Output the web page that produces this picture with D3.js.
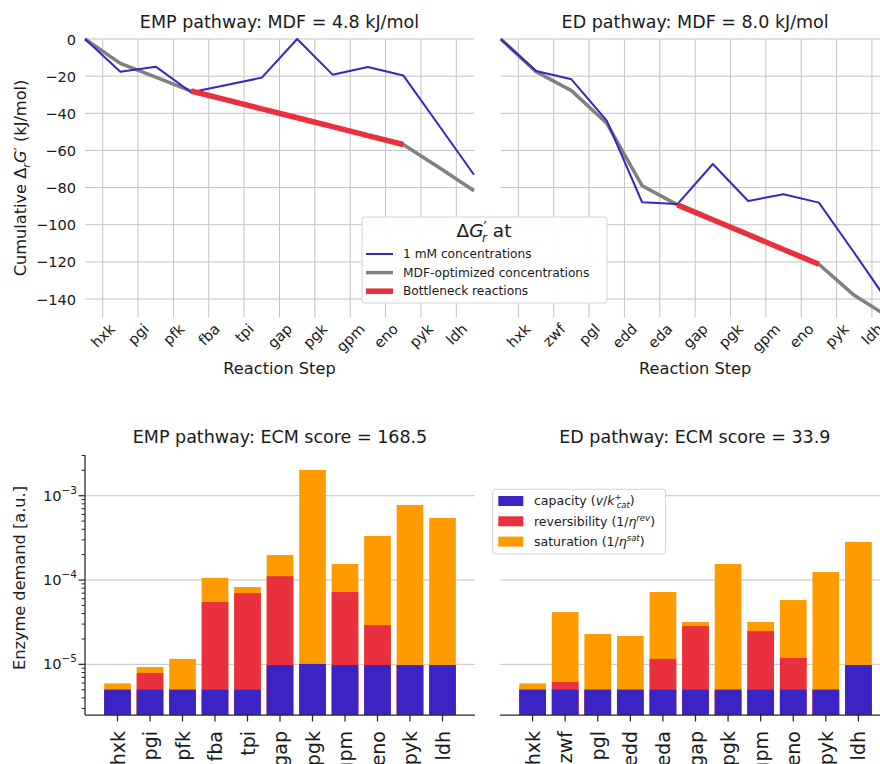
<!DOCTYPE html>
<html>
<head>
<meta charset="utf-8">
<script src="https://cdn.jsdelivr.net/npm/d3@7"></script>
<style>
  html, body { margin: 0; padding: 0; background: #fff; }
  svg { display: block; font-family: "DejaVu Sans", sans-serif; }
</style>
</head>
<body>
<svg id="fig" width="880" height="764"></svg>
<script>
// ---- Pathway reaction steps ----
const empSteps = ["hxk", "pgi", "pfk", "fba", "tpi", "gap", "pgk", "gpm", "eno", "pyk", "ldh"];
const edSteps  = ["hxk", "zwf", "pgl", "edd", "eda", "gap", "pgk", "gpm", "eno", "pyk", "ldh"];

// ---- Cumulative reaction Gibbs energy (kJ/mol), starting point + one value after each step ----
const empCum1mM = [0, -17.6, -14.9, -28.7, -24.8, -20.8, 0, -19.2, -15.1, -19.6, -46.3, -73.1];
const empCumMDF = [0, -13.1, -20.5, -28.0, -32.8, -37.6, -42.4, -47.2, -52.0, -56.8, -69.0, -81.7];
const empBottleneck = ["fba", "tpi", "gap", "pgk", "gpm", "eno"];

const edCum1mM = [0, -17.2, -21.7, -44.0, -87.9, -88.9, -67.3, -87.2, -83.6, -88.1, -115.1, -142.7];
const edCumMDF = [0, -17.6, -27.8, -45.4, -79.0, -89.3, -97.3, -105.3, -113.3, -121.3, -138.0, -150.0];
const edBottleneck = ["gap", "pgk", "gpm", "eno"];

const mdfTitles = ["EMP pathway: MDF = 4.8 kJ/mol", "ED pathway: MDF = 8.0 kJ/mol"];
const dgTicks = [0, -20, -40, -60, -80, -100, -120, -140];

// ---- Enzyme demand (a.u.): capacity term, after reversibility factor, after saturation factor ----
const empCapacity = [5.0e-6, 5.0e-6, 5.0e-6, 5.0e-6, 5.0e-6, 9.8e-6, 1.01e-5, 9.8e-6, 9.8e-6, 9.8e-6, 9.8e-6];
const empWithRev  = [5.0e-6, 7.9e-6, 5.0e-6, 5.48e-5, 7.0e-5, 1.11e-4, 1.01e-5, 7.2e-5, 2.92e-5, 9.8e-6, 9.8e-6];
const empDemand   = [5.94e-6, 9.3e-6, 1.16e-5, 1.06e-4, 8.26e-5, 1.98e-4, 2.02e-3, 1.55e-4, 3.33e-4, 7.77e-4, 5.45e-4];

const edCapacity = [5.0e-6, 5.0e-6, 5.0e-6, 5.0e-6, 5.0e-6, 5.0e-6, 5.0e-6, 5.0e-6, 5.0e-6, 5.0e-6, 9.8e-6];
const edWithRev  = [5.0e-6, 6.17e-6, 5.0e-6, 5.0e-6, 1.16e-5, 2.84e-5, 5.0e-6, 2.48e-5, 1.19e-5, 5.0e-6, 9.8e-6];
const edDemand   = [5.94e-6, 4.17e-5, 2.29e-5, 2.17e-5, 7.21e-5, 3.18e-5, 1.55e-4, 3.18e-5, 5.79e-5, 1.244e-4, 2.83e-4];

const ecmTitles = ["EMP pathway: ECM score = 168.5", "ED pathway: ECM score = 33.9"];
const demandDecades = [-5, -4, -3];

// ---- Styling ----
const C = { blue: "#3b23c4", gray: "#808080", red: "#e8303f", orange: "#fd9b00",
            grid: "#c4c4c4", ink: "#1a1a1a", spine: "#262626" };
const FS = { tick: 14.6, title: 17.5, label: 16.2, legend: 12.2, bottomTick: 19 };

const svg = d3.select("#fig");

// ================= Top row: cumulative ΔG profiles =================
const yDG = d3.scaleLinear().domain([-150, 0]).range([317.6, 39]);
const topPanels = [
  { steps: empSteps, cum1: empCum1mM, cumM: empCumMDF, bott: empBottleneck, title: mdfTitles[0],
    x: d3.scaleLinear().domain([0, 11]).range([85, 474]), yLabels: true },
  { steps: edSteps, cum1: edCum1mM, cumM: edCumMDF, bott: edBottleneck, title: mdfTitles[1],
    x: d3.scaleLinear().domain([0, 11]).range([500.7, 889.6]), yLabels: false }
];

topPanels.forEach(p => {
  const g = svg.append("g");
  const [x0, x1] = p.x.range();
  // horizontal grid
  g.selectAll("line.hg").data(dgTicks).join("line")
    .attr("x1", x0).attr("x2", x1)
    .attr("y1", d => yDG(d)).attr("y2", d => yDG(d))
    .attr("stroke", C.grid).attr("stroke-width", 1);
  // vertical grid at step centres
  g.selectAll("line.vg").data(p.steps).join("line")
    .attr("x1", (d, i) => p.x(i + 0.5)).attr("x2", (d, i) => p.x(i + 0.5))
    .attr("y1", yDG(0)).attr("y2", yDG(-150))
    .attr("stroke", C.grid).attr("stroke-width", 1);

  if (p.yLabels) {
    g.selectAll("text.yt").data(dgTicks).join("text")
      .attr("x", 76).attr("y", d => yDG(d))
      .attr("text-anchor", "end").attr("dominant-baseline", "central")
      .attr("font-size", FS.tick).attr("fill", C.ink)
      .text(d => d3.format("d")(d).replace("-", "\u2212"));
  }

  const line = d3.line().x((d, i) => p.x(i)).y(d => yDG(d));
  // MDF-optimized profile
  g.append("path").attr("d", line(p.cumM)).attr("fill", "none")
    .attr("stroke", C.gray).attr("stroke-width", 3.5).attr("stroke-linejoin", "round");
  // 1 mM profile
  g.append("path").attr("d", line(p.cum1)).attr("fill", "none")
    .attr("stroke", C.blue).attr("stroke-width", 2).attr("stroke-linejoin", "round");
  // Bottleneck segments
  p.steps.forEach((s, i) => {
    if (!p.bott.includes(s)) return;
    g.append("line")
      .attr("x1", p.x(i)).attr("y1", yDG(p.cumM[i]))
      .attr("x2", p.x(i + 1)).attr("y2", yDG(p.cumM[i + 1]))
      .attr("stroke", C.red).attr("stroke-width", 5.5);
  });

  // x tick labels, rotated 45°
  p.steps.forEach((s, i) => {
    const t = g.append("text").attr("text-anchor", "middle").attr("dominant-baseline", "central")
      .attr("font-size", FS.tick).attr("fill", C.ink).text(s);
    const w = t.node().getComputedTextLength();
    const cy = 322 + (w + 0.78 * FS.tick) / (2 * Math.SQRT2);
    t.attr("transform", `translate(${p.x(i + 0.5)},${cy}) rotate(-45)`);
  });

  g.append("text").attr("x", (x0 + x1) / 2).attr("y", 374)
    .attr("text-anchor", "middle").attr("font-size", FS.label).attr("fill", C.ink)
    .text("Reaction Step");
  g.append("text").attr("x", (x0 + x1) / 2).attr("y", 28)
    .attr("text-anchor", "middle").attr("font-size", FS.title).attr("fill", C.ink)
    .text(p.title);
});

// y-axis label: Cumulative Δ_rG′ (kJ/mol)
{
  const t = svg.append("text").attr("transform", `translate(26,178) rotate(-90)`)
    .attr("text-anchor", "middle").attr("font-size", FS.label).attr("fill", C.ink);
  t.append("tspan").text("Cumulative \u0394");
  t.append("tspan").attr("font-style", "italic").attr("font-size", FS.label * 0.7).attr("dy", 3.5).text("r");
  t.append("tspan").attr("font-style", "italic").attr("dy", -3.5).text("G");
  t.append("tspan").attr("font-size", FS.label * 0.9).attr("dy", -2).text("\u2032");
  t.append("tspan").attr("dy", 2).text(" (kJ/mol)");
}

// Top legend
{
  const lg = svg.append("g");
  lg.append("rect").attr("x", 362).attr("y", 217).attr("width", 245).attr("height", 86)
    .attr("rx", 3).attr("fill", "#fff").attr("fill-opacity", 0.95)
    .attr("stroke", "#d4d4d4").attr("stroke-width", 1);
  const tt = lg.append("text").attr("x", 484).attr("y", 237).attr("text-anchor", "middle")
    .attr("font-size", 18.5).attr("fill", C.ink);
  tt.append("tspan").text("\u0394");
  tt.append("tspan").attr("font-style", "italic").text("G");
  tt.append("tspan").attr("font-size", 15).attr("dy", -4).attr("dx", 0).text("\u2032");
  tt.append("tspan").attr("font-size", 12).attr("font-style", "italic").attr("dy", 9).attr("dx", -5).text("r");
  tt.append("tspan").attr("dy", -5).text(" at");
  const entries = [
    { label: "1 mM concentrations", color: C.blue, w: 2 },
    { label: "MDF-optimized concentrations", color: C.gray, w: 3.5 },
    { label: "Bottleneck reactions", color: C.red, w: 5.5 }
  ];
  entries.forEach((e, i) => {
    const cy = 254 + i * 18.6;
    lg.append("line").attr("x1", 366).attr("x2", 393).attr("y1", cy).attr("y2", cy)
      .attr("stroke", e.color).attr("stroke-width", e.w);
    lg.append("text").attr("x", 403).attr("y", cy).attr("dominant-baseline", "central")
      .attr("font-size", FS.legend).attr("fill", C.ink).text(e.label);
  });
}

// ================= Bottom row: enzyme demand =================
const yDem = d3.scaleLog().domain([Math.pow(10, -5.601), Math.pow(10, -2.517)]).range([715, 455]);
const botPanels = [
  { steps: empSteps, cap: empCapacity, rev: empWithRev, tot: empDemand, title: ecmTitles[0],
    range: [85, 475], axis: true },
  { steps: edSteps, cap: edCapacity, rev: edWithRev, tot: edDemand, title: ecmTitles[1],
    range: [500, 891], axis: false }
];

botPanels.forEach(p => {
  const g = svg.append("g");
  const x = d3.scaleBand().domain(p.steps).range(p.range).paddingInner(0.18).paddingOuter(0.59);
  const [x0, x1] = p.range;
  // major gridlines
  g.selectAll("line.hg").data(demandDecades).join("line")
    .attr("x1", x0).attr("x2", x1)
    .attr("y1", d => yDem(Math.pow(10, d))).attr("y2", d => yDem(Math.pow(10, d)))
    .attr("stroke", C.grid).attr("stroke-width", 1);

  const base = yDem.range()[0];
  const layers = [
    { vals: p.tot, color: C.orange },
    { vals: p.rev, color: C.red },
    { vals: p.cap, color: C.blue }
  ];
  layers.forEach(L => {
    g.selectAll(null).data(p.steps).join("rect")
      .attr("x", d => x(d)).attr("width", x.bandwidth())
      .attr("y", (d, i) => yDem(L.vals[i]))
      .attr("height", (d, i) => base - yDem(L.vals[i]))
      .attr("fill", L.color);
  });

  // bottom spine and ticks
  g.append("line").attr("x1", x0).attr("x2", x1).attr("y1", 715).attr("y2", 715)
    .attr("stroke", C.spine).attr("stroke-width", 1.25);
  p.steps.forEach(s => {
    const cx = x(s) + x.bandwidth() / 2;
    g.append("line").attr("x1", cx).attr("x2", cx).attr("y1", 715).attr("y2", 721.5)
      .attr("stroke", C.spine).attr("stroke-width", 1.25);
    g.append("text").attr("text-anchor", "end").attr("dominant-baseline", "central")
      .attr("transform", `translate(${cx},731) rotate(-90)`)
      .attr("font-size", FS.bottomTick).attr("fill", C.ink).text(s);
  });

  if (p.axis) {
    g.append("line").attr("x1", x0).attr("x2", x0).attr("y1", 455).attr("y2", 715)
      .attr("stroke", C.spine).attr("stroke-width", 1.25);
    const minor = yDem.ticks().filter(v => Math.abs(Math.log10(v) - Math.round(Math.log10(v))) > 1e-6);
    g.selectAll("line.mn").data(minor).join("line")
      .attr("x1", x0 - 3.5).attr("x2", x0).attr("y1", d => yDem(d)).attr("y2", d => yDem(d))
      .attr("stroke", C.spine).attr("stroke-width", 1);
    demandDecades.forEach(e => {
      const yy = yDem(Math.pow(10, e));
      g.append("line").attr("x1", x0 - 6.5).attr("x2", x0).attr("y1", yy).attr("y2", yy)
        .attr("stroke", C.spine).attr("stroke-width", 1.25);
      const t = g.append("text").attr("x", 77).attr("y", yy + 5).attr("text-anchor", "end")
        .attr("font-size", FS.tick).attr("fill", C.ink);
      t.append("tspan").text("10");
      t.append("tspan").attr("dy", -7).attr("font-size", 10.5).text("\u2212" + Math.abs(e));
    });
  }

  g.append("text").attr("x", (x0 + Math.min(x1, 889.6)) / 2).attr("y", 443)
    .attr("text-anchor", "middle").attr("font-size", FS.title).attr("fill", C.ink).text(p.title);
});

svg.append("text").attr("transform", "translate(25,578) rotate(-90)")
  .attr("text-anchor", "middle").attr("font-size", FS.label).attr("fill", C.ink)
  .text("Enzyme demand [a.u.]");

// Bottom legend
{
  const lg = svg.append("g");
  lg.append("rect").attr("x", 492.7).attr("y", 489.3).attr("width", 173).attr("height", 64.7)
    .attr("rx", 3).attr("fill", "#fff").attr("fill-opacity", 0.95)
    .attr("stroke", "#d4d4d4").attr("stroke-width", 1);
  const rows = [
    { color: C.blue, build: t => {
        t.append("tspan").text("capacity (");
        t.append("tspan").attr("font-style", "italic").text("v");
        t.append("tspan").text("/");
        t.append("tspan").attr("font-style", "italic").text("k");
        t.append("tspan").attr("font-size", 8.5).attr("dy", -5).text("+");
        t.append("tspan").attr("font-size", 8.5).attr("font-style", "italic").attr("dy", 8).attr("dx", -5).text("cat");
        t.append("tspan").attr("dy", -3).text(")");
      } },
    { color: C.red, build: t => {
        t.append("tspan").text("reversibility (1/");
        t.append("tspan").attr("font-style", "italic").text("\u03b7");
        t.append("tspan").attr("font-size", 8.5).attr("font-style", "italic").attr("dy", -5).text("rev");
        t.append("tspan").attr("dy", 5).text(")");
      } },
    { color: C.orange, build: t => {
        t.append("tspan").text("saturation (1/");
        t.append("tspan").attr("font-style", "italic").text("\u03b7");
        t.append("tspan").attr("font-size", 8.5).attr("font-style", "italic").attr("dy", -5).text("sat");
        t.append("tspan").attr("dy", 5).text(")");
      } }
  ];
  rows.forEach((r, i) => {
    const cy = 501 + i * 20.3;
    lg.append("rect").attr("x", 498.3).attr("y", cy - 5).attr("width", 25).attr("height", 10).attr("fill", r.color);
    const t = lg.append("text").attr("x", 534).attr("y", cy + 4.3)
      .attr("font-size", FS.legend + 0.3).attr("fill", C.ink);
    r.build(t);
  });
}
</script>
</body>
</html>
